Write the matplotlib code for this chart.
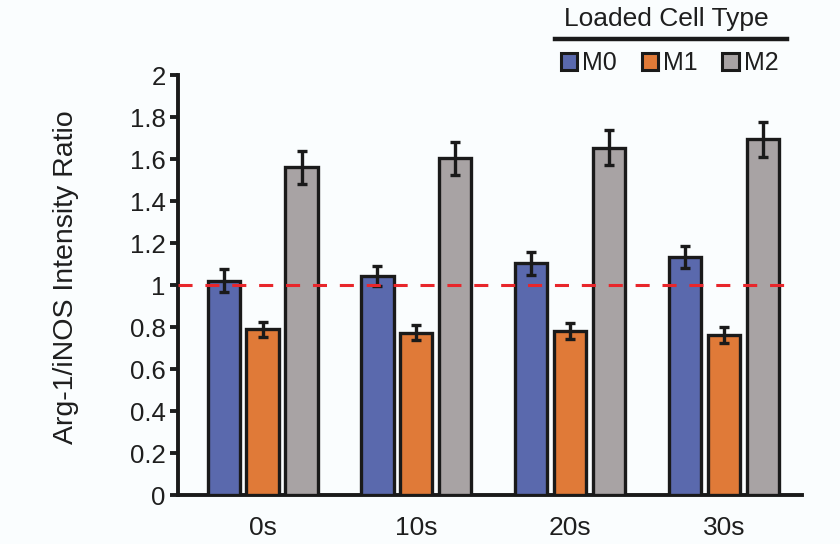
import matplotlib
matplotlib.use('Agg')
import matplotlib.pyplot as plt
import numpy as np
from matplotlib.patches import Patch
from matplotlib.lines import Line2D

plt.rcParams['font.family'] = ['Liberation Sans', 'DejaVu Sans']
plt.rcParams['text.color'] = '#1e1e1e'
plt.rcParams['axes.labelcolor'] = '#1e1e1e'
plt.rcParams['xtick.color'] = '#1e1e1e'
plt.rcParams['ytick.color'] = '#1e1e1e'

times = ['0s', '10s', '20s', '30s']
cell_types = ['M0', 'M1', 'M2']
m0 = [1.02, 1.043, 1.103, 1.135]
m1 = [0.79, 0.773, 0.782, 0.762]
m2 = [1.56, 1.603, 1.655, 1.695]
m0_err = [0.055, 0.048, 0.056, 0.052]
m1_err = [0.035, 0.037, 0.038, 0.037]
m2_err = [0.08, 0.08, 0.083, 0.083]
colors = ['#5a69ad', '#e07a38', '#a8a3a4']
bg = '#fafdfe'

fig = plt.figure(figsize=(8.4, 5.44), dpi=100)
fig.patch.set_facecolor(bg)
ax = fig.add_axes([0.212, 0.090, 0.743, 0.772])
ax.set_facecolor(bg)

x = np.arange(len(times))
width = 0.21
offs = [-0.253, 0.0, 0.253]
for vals, errs, off, c in zip([m0, m1, m2], [m0_err, m1_err, m2_err], offs, colors):
    ax.bar(x + off, vals, width, color=c, edgecolor='#1a1a1a', linewidth=2.4,
           yerr=errs, error_kw=dict(ecolor='#1a1a1a', elinewidth=2.4, capsize=3.5, capthick=2.4),
           zorder=3)

ax.axhline(1.0, color='#e8262b', linestyle=(0, (4.6, 4.2)), linewidth=2.2, zorder=4,
           xmin=0, xmax=0.985)

ax.set_xlim(-0.55, 3.51)
ax.set_ylim(0, 2)
ax.set_yticks(np.arange(0, 2.01, 0.2))
ax.set_yticklabels(['0', '0.2', '0.4', '0.6', '0.8', '1', '1.2', '1.4', '1.6', '1.8', '2'])
ax.set_xticks(x)
ax.set_xticklabels(times)
ax.tick_params(axis='y', labelsize=18.5, width=2.8, length=6, direction='out', pad=3)
ax.tick_params(axis='x', labelsize=19, length=0, pad=15)
ax.set_ylabel('Arg-1/iNOS Intensity Ratio', fontsize=20.5)
ax.yaxis.set_label_coords(-0.158, 0.52)

for s in ['top', 'right']:
    ax.spines[s].set_visible(False)
for s in ['left', 'bottom']:
    ax.spines[s].set_linewidth(2.8)
    ax.spines[s].set_color('#1a1a1a')

# legend with title and underline
fig.text(0.793, 0.965, 'Loaded Cell Type', fontsize=19, ha='center', va='center')
fig.add_artist(Line2D([0.661, 0.937], [0.928, 0.928], color='#1a1a1a', linewidth=3.2))
handles = [Patch(facecolor=c, edgecolor='#1a1a1a', linewidth=2.2, label=l)
           for c, l in zip(colors, cell_types)]
fig.legend(handles=handles, loc='center', bbox_to_anchor=(0.797, 0.884), ncol=3,
           frameon=False, fontsize=18, handlelength=0.65, handleheight=0.65,
           handletextpad=0.2, columnspacing=1.0, borderaxespad=0, borderpad=0)

fig.savefig('out.png', dpi=100, facecolor=fig.get_facecolor())
